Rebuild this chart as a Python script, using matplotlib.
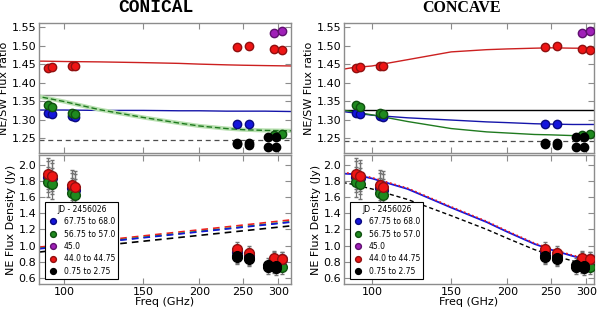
import numpy as np
import matplotlib.pyplot as plt

# observed data (GHz, NE/SW ratio, NE flux in Jy)
blue_freq = [92, 94, 104, 106, 243, 258]
blue_ratio = [1.318, 1.316, 1.310, 1.308, 1.289, 1.289]
blue_flux = [1.85, 1.83, 1.71, 1.69, 0.92, 0.88]

green_freq = [92, 94, 104, 106, 293, 306]
green_ratio = [1.339, 1.333, 1.318, 1.316, 1.259, 1.261]
green_flux = [1.785, 1.765, 1.65, 1.63, 0.75, 0.73]

purple_freq = [293, 306]
purple_ratio = [1.533, 1.539]
purple_flux = [0.84, 0.83]

red_freq = [92, 94, 104, 106, 243, 258, 293, 306]
red_ratio = [1.440, 1.441, 1.445, 1.445, 1.496, 1.498, 1.490, 1.489]
red_flux = [1.89, 1.865, 1.75, 1.73, 0.96, 0.905, 0.85, 0.83]

black_freq = [243, 243, 258, 258, 284, 284, 296, 296]
black_ratio = [1.237, 1.234, 1.236, 1.232, 1.253, 1.225, 1.253, 1.225]
black_flux = [0.87, 0.86, 0.85, 0.83, 0.76, 0.73, 0.75, 0.72]

labels = ['67.75 to 68.0', '56.75 to 57.0', '45.0', '44.0 to 44.75', '0.75 to 2.75']

# model curves
mod_freq = [86, 90, 100, 120, 150, 180, 200, 230, 250, 280, 320]
con_red = [1.458, 1.458, 1.457, 1.456, 1.454, 1.452, 1.450, 1.448, 1.447, 1.446, 1.445]
con_green = [1.366, 1.360, 1.349, 1.327, 1.306, 1.291, 1.283, 1.276, 1.273, 1.271, 1.270]
con_blue = [1.326, 1.326, 1.326, 1.325, 1.325, 1.324, 1.324, 1.323, 1.323, 1.323, 1.322]
con_grey = 1.366
con_black = 1.244

cav_red = [1.436, 1.440, 1.445, 1.462, 1.483, 1.489, 1.491, 1.493, 1.494, 1.493, 1.493]
cav_blue = [1.322, 1.319, 1.312, 1.305, 1.299, 1.294, 1.292, 1.289, 1.288, 1.287, 1.287]
cav_green = [1.326, 1.322, 1.313, 1.295, 1.276, 1.267, 1.264, 1.260, 1.259, 1.257, 1.257]
cav_black = 1.327
cav_dash = 1.242

lin_freq = [88, 320]
lin_red = [0.98, 1.318]
lin_green = [0.965, 1.295]
lin_blue = [0.96, 1.29]
lin_black = [0.92, 1.244]

cav_flux_blue = [1.89, 1.885, 1.83, 1.70, 1.47, 1.29, 1.17, 1.02, 0.95, 0.87, 0.79]
cav_flux_red = [1.90, 1.895, 1.84, 1.71, 1.48, 1.30, 1.18, 1.03, 0.96, 0.88, 0.80]
cav_flux_black = [1.78, 1.76, 1.70, 1.57, 1.37, 1.20, 1.09, 0.95, 0.885, 0.81, 0.73]

colors = ['#1515dd', '#1f8a1f', '#a020b8', '#ee1515', '#000000']
edges = ['#0a0a80', '#0f500f', '#601070', '#901010', '#000000']
series = [(blue_freq, blue_ratio, blue_flux),
          (green_freq, green_ratio, green_flux),
          (purple_freq, purple_ratio, purple_flux),
          (red_freq, red_ratio, red_flux),
          (black_freq, black_ratio, black_flux)]

fig = plt.figure(figsize=(6, 3.11), dpi=100)
W, H = 600.0, 311.0


def make_ax(x0, x1, y0, y1):
    return fig.add_axes([x0 / W, 1 - y1 / H, (x1 - x0) / W, (y1 - y0) / H])


def style(ax, xlim):
    ax.set_xscale('log')
    ax.set_xlim(*xlim)
    ax.set_xticks([100, 150, 200, 250, 300])
    ax.set_xticks([], minor=True)
    ax.set_xticklabels(['100', '150', '200', '250', '300'])
    ax.tick_params(direction='in', top=True, right=True, labelsize=8,
                   color='0.55', length=4, pad=2)
    for s in ax.spines.values():
        s.set_color('0.55')
        s.set_linewidth(1.0)


def plot_points(ax, flux=False):
    for (f, r, fl), c, e, lab in zip(series, colors, edges, labels):
        if flux:
            err = [0.19 if x < 150 else 0.085 for x in f]
            ax.errorbar(f, fl, yerr=err, fmt='none', ecolor='0.45', elinewidth=0.9,
                        capsize=1.5, zorder=2)
            ax.plot(f, fl, 'o', color=c, mec=e, ms=7, label=lab, zorder=3)
        else:
            ax.plot(f, r, 'o', color=c, mec=e, ms=6, zorder=3)


for side in ['conical', 'concave']:
    if side == 'conical':
        x0, x1, xlim = 39, 291, (88, 320)
    else:
        x0, x1, xlim = 344, 594, (86.6, 312)
    top = make_ax(x0, x1, 23, 153)
    bot = make_ax(x0, x1, 155, 284)

    if side == 'conical':
        top.plot(mod_freq, con_red, color='#cc2020', lw=1)
        top.axhline(con_grey, color='0.55', lw=1)
        top.plot(mod_freq, con_blue, color='#1515aa', lw=1)
        top.plot(mod_freq, con_green, color='#b8e0b0', lw=3)
        top.plot(mod_freq, con_green, color='#1f7a1f', lw=1, ls='--', dashes=(4, 2))
        top.axhline(con_black, color='0.3', lw=0.9, ls='--', dashes=(4, 3))
        bot.plot(lin_freq, lin_red, color='#ee2020', lw=1.2, ls='--', dashes=(4, 3))
        bot.plot(lin_freq, lin_green, color='#1f8a1f', lw=1.2, ls='--', dashes=(4, 3))
        bot.plot(lin_freq, lin_blue, color='#1515dd', lw=1.2, ls='--', dashes=(4, 3))
        bot.plot(lin_freq, lin_black, color='black', lw=1.2, ls='--', dashes=(4, 3))
        top.set_title('CONICAL', family='Liberation Mono', weight='bold',
                      fontsize=13, x=0.465, pad=8)
    else:
        top.plot(mod_freq, cav_red, color='#cc2020', lw=1)
        top.axhline(cav_black, color='black', lw=1)
        top.plot(mod_freq, cav_blue, color='#1515aa', lw=1)
        top.plot(mod_freq, cav_green, color='#1f7a1f', lw=1)
        top.axhline(cav_dash, color='0.3', lw=0.9, ls='--', dashes=(4, 3))
        bot.plot(mod_freq, cav_flux_blue, color='#1515dd', lw=1.3)
        bot.plot(mod_freq, cav_flux_red, color='#ee2020', lw=1.2, ls=':')
        bot.plot(mod_freq, cav_flux_black, color='black', lw=1, ls='--', dashes=(3, 2))
        top.set_title('CONCAVE', family='Liberation Serif', weight='bold',
                      fontsize=11.5, x=0.47, pad=8)

    plot_points(top)
    plot_points(bot, flux=True)

    style(top, xlim)
    top.set_xticklabels([])
    top.set_ylim(1.21, 1.561)
    top.set_yticks(np.arange(1.25, 1.551, 0.05))
    top.set_yticklabels(['%.2f' % v for v in np.arange(1.25, 1.551, 0.05)])
    top.set_ylabel('NE/SW Flux ratio', fontsize=8, labelpad=2)

    style(bot, xlim)
    bot.set_ylim(0.525, 2.12)
    bot.set_yticks(np.arange(0.6, 2.01, 0.2))
    bot.set_yticklabels(['%.1f' % v for v in np.arange(0.6, 2.01, 0.2)])
    bot.set_ylabel('NE Flux Density (Jy)', fontsize=8, labelpad=2)
    bot.set_xlabel('Freq (GHz)', fontsize=8, labelpad=0)

    leg = bot.legend(loc='lower left', bbox_to_anchor=(0.01, 0.01), title='JD - 2456026',
                     fontsize=5.5, title_fontsize=5.5, markerscale=0.6, numpoints=1,
                     labelspacing=0.45, handlelength=1.2, handletextpad=0.8,
                     borderpad=0.4, fancybox=False, framealpha=1)
    leg.get_frame().set_edgecolor('black')
    leg.get_frame().set_linewidth(0.8)

fig.savefig('out.png', dpi=100)
